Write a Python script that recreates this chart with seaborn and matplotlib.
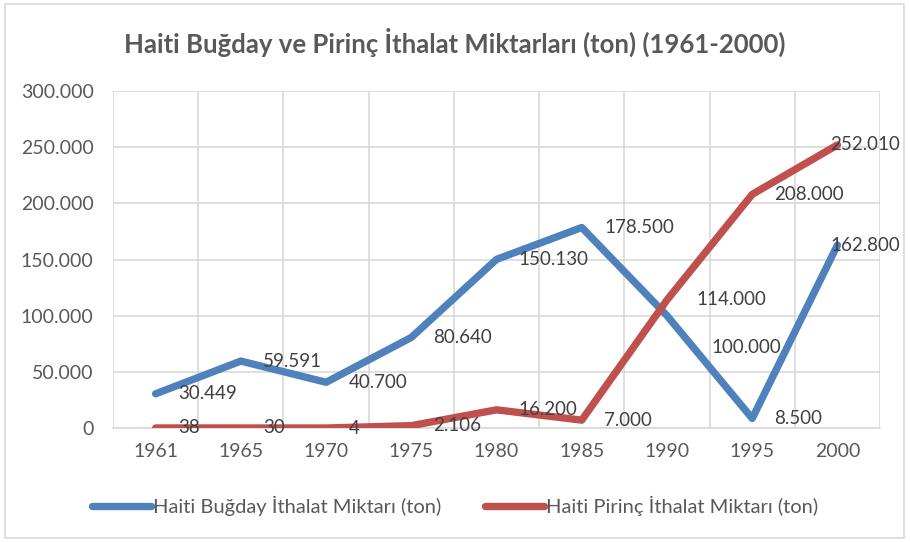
import numpy as np
import pandas as pd
import matplotlib
matplotlib.use('Agg')
import matplotlib.pyplot as plt
import matplotlib.ticker as mticker
from matplotlib.patches import Rectangle
from matplotlib.lines import Line2D
import seaborn as sns

# ── Veri ──────────────────────────────────────────────────────────────────────
YILLAR  = ['1961', '1965', '1970', '1975', '1980', '1985', '1990', '1995', '2000']
BUGDAY  = [30449, 59591, 40700, 80640, 150130, 178500, 100000, 8500, 162800]
PIRINC  = [38, 30, 4, 2106, 16200, 7000, 114000, 208000, 252010]
SERI_ADLARI = ['Haiti Buğday İthalat Miktarı (ton)', 'Haiti Pirinç İthalat Miktarı (ton)']
BASLIK = 'Haiti Buğday ve Pirinç İthalat Miktarları (ton) (1961-2000)'

MAVI, KIRMIZI = '#4F81BD', '#C0504D'
GRI_YAZI = '#595959'

df = pd.DataFrame({
    'yil': YILLAR * 2,
    'miktar': BUGDAY + PIRINC,
    'seri': [SERI_ADLARI[0]] * len(YILLAR) + [SERI_ADLARI[1]] * len(YILLAR),
})

def tr_format(v):
    return f'{int(round(v)):,}'.replace(',', '.')

# ── Grafik ────────────────────────────────────────────────────────────────────
sns.set_style('white')
plt.rcParams['font.family'] = ['Lato', 'DejaVu Sans']

fig = plt.figure(figsize=(9.1, 5.42), dpi=100)
fig.patches.append(Rectangle((0.005, 0.008), 0.988, 0.985, transform=fig.transFigure,
                             fill=False, edgecolor='#D9D9D9', linewidth=1.2))
ax = fig.add_axes([0.1242, 0.2103, 0.8429, 0.6218])

sns.lineplot(data=df, x='yil', y='miktar', hue='seri', palette=[MAVI, KIRMIZI],
             linewidth=5.3, sort=False, legend=False, ax=ax, zorder=3)

ax.set_xlim(-0.5, len(YILLAR) - 0.5)
ax.set_ylim(0, 300000)
ax.yaxis.set_major_locator(mticker.MultipleLocator(50000))
ax.yaxis.set_major_formatter(mticker.FuncFormatter(lambda v, p: tr_format(v)))
ax.xaxis.set_minor_locator(mticker.FixedLocator(np.arange(-0.5, len(YILLAR), 1)))
ax.grid(True, axis='y', which='major', color='#D9D9D9', linewidth=1.2)
ax.grid(True, axis='x', which='minor', color='#D9D9D9', linewidth=1.2)
ax.set_axisbelow(True)
for s in ['top', 'right', 'left']:
    ax.spines[s].set_visible(False)
ax.spines['bottom'].set_color('#D9D9D9')
ax.spines['bottom'].set_linewidth(1.2)
ax.tick_params(axis='both', which='both', length=0, labelsize=14, labelcolor=GRI_YAZI)
ax.tick_params(axis='y', pad=14)
ax.tick_params(axis='x', pad=11)
ax.set_xlabel('')
ax.set_ylabel('')

# Veri etiketleri (noktanın sağında)
ofset_bugday = [(16, 0)] * 6 + [(32, -23), (16, 0), (-5, 0)]
ofset_pirinc = [(16, 0)] * 6 + [(21, 0), (16, 0), (-5, 0)]
for i, yil in enumerate(YILLAR):
    ax.annotate(tr_format(BUGDAY[i]), (i, BUGDAY[i]), xytext=ofset_bugday[i],
                textcoords='offset points', ha='left', va='center',
                fontsize=13.5, color='#404040', zorder=5)
    ax.annotate(tr_format(PIRINC[i]), (i, PIRINC[i]), xytext=ofset_pirinc[i],
                textcoords='offset points', ha='left', va='center',
                fontsize=13.5, color='#404040', zorder=5)

fig.text(0.5, 0.922, BASLIK, ha='center', va='center', fontsize=18.5,
         fontweight='bold', color=GRI_YAZI)

tutamaclar = [Line2D([0], [0], color=MAVI, linewidth=5.3, solid_capstyle='round'),
              Line2D([0], [0], color=KIRMIZI, linewidth=5.3, solid_capstyle='round')]
fig.legend(tutamaclar, SERI_ADLARI, loc='center', bbox_to_anchor=(0.5, 0.066),
           ncol=2, frameon=False, fontsize=14.5, labelcolor=GRI_YAZI,
           handlelength=2.9, handletextpad=0.1, columnspacing=2.2)

plt.savefig('out.png', dpi=100)
plt.close()
